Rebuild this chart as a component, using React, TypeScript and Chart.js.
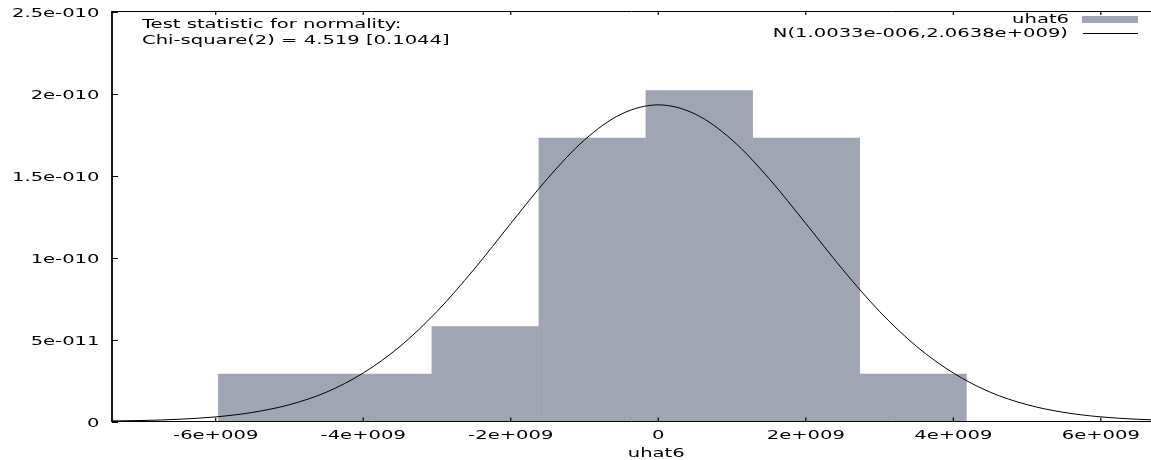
import React, { useEffect, useRef } from "react";
import { Chart, registerables } from "chart.js";

Chart.register(...registerables);

// ---- data ----
const binCenters = [-5.24e9, -3.794e9, -2.346e9, -0.895e9, 0.556e9, 2.007e9, 3.454e9];
const binDensity = [2.9e-11, 2.9e-11, 5.8e-11, 1.73e-10, 2.02e-10, 1.73e-10, 2.9e-11];

const curveX = [
  -7.5e9, -7.0e9, -6.5e9, -6.0e9, -5.5e9, -5.0e9, -4.5e9, -4.0e9, -3.5e9, -3.0e9,
  -2.5e9, -2.0e9, -1.5e9, -1.0e9, -0.5e9, 0, 0.5e9, 1.0e9, 1.5e9, 2.0e9,
  2.5e9, 3.0e9, 3.5e9, 4.0e9, 4.5e9, 5.0e9, 5.5e9, 6.0e9, 6.5e9, 7.0e9,
];
const curveY = [
  2.6e-13, 6.1e-13, 1.36e-12, 2.82e-12, 5.55e-12, 1.027e-11, 1.79e-11, 2.96e-11, 4.59e-11, 6.72e-11,
  9.28e-11, 1.209e-10, 1.484e-10, 1.719e-10, 1.877e-10, 1.933e-10, 1.877e-10, 1.719e-10, 1.484e-10, 1.209e-10,
  9.28e-11, 6.72e-11, 4.59e-11, 2.96e-11, 1.79e-11, 1.027e-11, 5.55e-12, 2.82e-12, 1.36e-12, 6.1e-13,
];

const xTickValues = [-6e9, -4e9, -2e9, 0, 2e9, 4e9, 6e9];
const xTickLabels = ["-6e+009", "-4e+009", "-2e+009", "0", "2e+009", "4e+009", "6e+009"];
const yTickValues = [0, 5e-11, 1e-10, 1.5e-10, 2e-10, 2.5e-10];
const yTickLabels = ["0", "5e-011", "1e-010", "1.5e-010", "2e-010", "2.5e-010"];
const xMin = -7.406e9;
const xMax = 6.68e9;
const yMin = 0;
const yMax = 2.5e-10;

const seriesLabels = ["uhat6", "N(1.0033e-006,2.0638e+009)"];
const xAxisTitle = "uhat6";
const noteLines = ["Test statistic for normality:", "Chi-square(2) = 4.519 [0.1044]"];

const BAR_COLOR = "#a0a5b4";
const SX = 1.63;
const FONT = "12px 'DejaVu Sans'";

function stretchedText(ctx: CanvasRenderingContext2D, text: string, x: number, y: number, align: string) {
  ctx.save();
  ctx.font = FONT;
  const w = ctx.measureText(text).width * SX;
  let start = x;
  if (align === "center") start = x - w / 2;
  else if (align === "right") start = x - w;
  ctx.translate(start, y);
  ctx.scale(SX, 1);
  ctx.textAlign = "left";
  ctx.textBaseline = "middle";
  ctx.fillStyle = "#000";
  ctx.fillText(text, 0, 0);
  ctx.restore();
}

const gnuplotDecor = {
  id: "gnuplotDecor",
  afterDraw(chart: any) {
    const ctx: CanvasRenderingContext2D = chart.ctx;
    const { left, right, top, bottom } = chart.chartArea;
    const xs = chart.scales.x;
    const ys = chart.scales.y;
    ctx.save();
    ctx.strokeStyle = "#000";
    // border
    ctx.lineWidth = 1;
    ctx.beginPath();
    ctx.moveTo(left, top - 0.5);
    ctx.lineTo(right, top - 0.5);
    ctx.moveTo(left, bottom);
    ctx.lineTo(right, bottom);
    ctx.stroke();
    ctx.lineWidth = 1.8;
    ctx.beginPath();
    ctx.moveTo(left, top - 1);
    ctx.lineTo(left, bottom + 0.5);
    ctx.stroke();
    // x ticks (bottom + mirrored top)
    ctx.lineWidth = 1.2;
    xs.ticks.forEach((t: any, i: number) => {
      const px = xs.getPixelForValue(t.value);
      ctx.beginPath();
      ctx.moveTo(px, bottom);
      ctx.lineTo(px, bottom - 4);
      ctx.moveTo(px, top - 1);
      ctx.lineTo(px, top + 3);
      ctx.stroke();
      stretchedText(ctx, xTickLabels[i], px, bottom + 14, "center");
    });
    // y ticks (left)
    ctx.lineWidth = 1;
    ys.ticks.forEach((t: any, i: number) => {
      const py = Math.round(ys.getPixelForValue(t.value)) + 0.5;
      ctx.beginPath();
      ctx.moveTo(left, py);
      ctx.lineTo(left + 6, py);
      ctx.stroke();
      stretchedText(ctx, yTickLabels[i], 99.5, py + 1, "right");
    });
    // axis title
    stretchedText(ctx, xAxisTitle, xs.getPixelForValue(0) - 2, bottom + 32, "center");
    // annotation
    stretchedText(ctx, noteLines[0], 142, 25, "left");
    stretchedText(ctx, noteLines[1], 142, 41, "left");
    // legend
    stretchedText(ctx, seriesLabels[0], 1069, 19.5, "right");
    ctx.fillStyle = BAR_COLOR;
    ctx.fillRect(1082, 16, 56, 7);
    stretchedText(ctx, seriesLabels[1], 1068, 34, "right");
    ctx.strokeStyle = "#000";
    ctx.lineWidth = 1;
    ctx.beginPath();
    ctx.moveTo(1083, 33.5);
    ctx.lineTo(1138, 33.5);
    ctx.stroke();
    ctx.restore();
  },
};

export default function App() {
  const ref = useRef<HTMLCanvasElement | null>(null);
  useEffect(() => {
    document.body.style.margin = "0";
    const canvas = ref.current!;
    const chart = new Chart(canvas, {
      type: "bar",
      data: {
        datasets: [
          {
            type: "bar",
            label: seriesLabels[0],
            data: binCenters.map((x, i) => ({ x, y: binDensity[i] })),
            backgroundColor: BAR_COLOR,
            borderWidth: 0,
            barPercentage: 1,
            categoryPercentage: 1,
            order: 2,
          } as any,
          {
            type: "line",
            label: seriesLabels[1],
            data: curveX.map((x, i) => ({ x, y: curveY[i] })),
            borderColor: "#000",
            borderWidth: 1,
            pointRadius: 0,
            fill: false,
            cubicInterpolationMode: "monotone",
            order: 1,
          } as any,
        ],
      },
      options: {
        responsive: false,
        animation: false,
        maintainAspectRatio: false,
        layout: { padding: { left: 112, right: 0, top: 12, bottom: 38.5 } },
        plugins: { legend: { display: false }, tooltip: { enabled: false } },
        scales: {
          x: {
            type: "linear",
            min: xMin,
            max: xMax,
            offset: false,
            display: false,
            grid: { display: false, offset: false },
            afterBuildTicks: (s: any) => {
              s.ticks = xTickValues.map((v) => ({ value: v }));
            },
          },
          y: {
            type: "linear",
            min: yMin,
            max: yMax,
            display: false,
            grid: { display: false },
            afterBuildTicks: (s: any) => {
              s.ticks = yTickValues.map((v) => ({ value: v }));
            },
          },
        },
      } as any,
      plugins: [gnuplotDecor],
    });
    return () => chart.destroy();
  }, []);
  return <canvas ref={ref} width={1151} height={460} style={{ display: "block", width: 1151, height: 460 }} />;
}
